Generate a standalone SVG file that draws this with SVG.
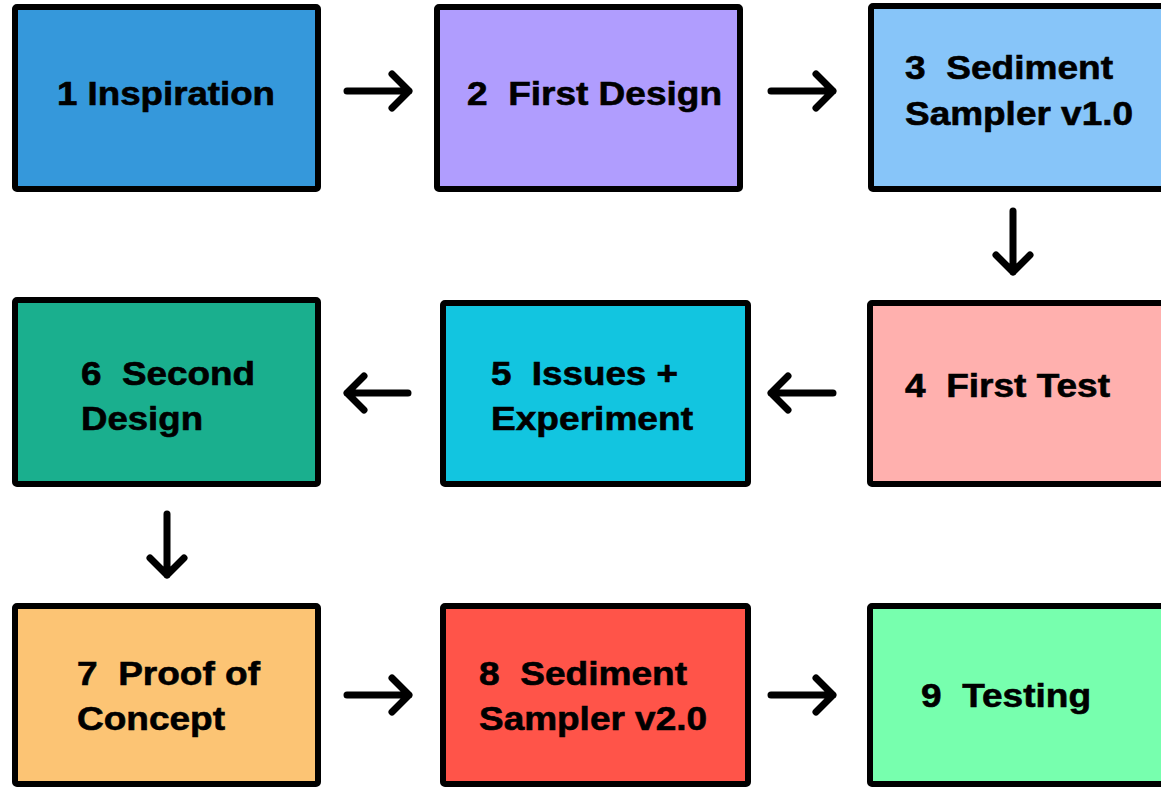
<svg xmlns="http://www.w3.org/2000/svg" width="1161" height="787" viewBox="0 0 1161 787">
  <style>
    .box { stroke: #000; stroke-width: 6; stroke-linejoin: round; }
    .lbl { font-family: "Liberation Sans", Arial, sans-serif; font-weight: bold; font-size: 33px; fill: #000; stroke: #000; stroke-width: 0.6; }
    .arr { fill: none; stroke: #000; stroke-width: 7; stroke-linecap: round; stroke-linejoin: round; }
  </style>
  <rect width="1161" height="787" fill="#fff"/>

  <g id="node1">
    <rect class="box" x="15" y="7" width="303" height="182" rx="2" fill="#3598DB"/>
    <text class="lbl" x="57" y="105" textLength="218" lengthAdjust="spacingAndGlyphs">1 Inspiration</text>
  </g>
  <g id="node2">
    <rect class="box" x="437" y="7" width="303" height="182" rx="2" fill="#B09DFE"/>
    <text class="lbl" x="467" y="105" textLength="255" lengthAdjust="spacingAndGlyphs" xml:space="preserve">2  First Design</text>
  </g>
  <g id="node3">
    <rect class="box" x="871" y="6" width="320" height="183" rx="2" fill="#87C5F9"/>
    <text class="lbl" x="905" y="79" textLength="208" lengthAdjust="spacingAndGlyphs" xml:space="preserve">3  Sediment</text>
    <text class="lbl" x="905" y="125" textLength="228" lengthAdjust="spacingAndGlyphs">Sampler v1.0</text>
  </g>
  <g id="node4">
    <rect class="box" x="870" y="303" width="320" height="181" rx="2" fill="#FFB0AE"/>
    <text class="lbl" x="905" y="397" textLength="205" lengthAdjust="spacingAndGlyphs" xml:space="preserve">4  First Test</text>
  </g>
  <g id="node5">
    <rect class="box" x="443" y="303" width="305" height="181" rx="2" fill="#12C5E0"/>
    <text class="lbl" x="491" y="385" textLength="187" lengthAdjust="spacingAndGlyphs" xml:space="preserve">5  Issues +</text>
    <text class="lbl" x="491" y="430" textLength="202" lengthAdjust="spacingAndGlyphs">Experiment</text>
  </g>
  <g id="node6">
    <rect class="box" x="15" y="300" width="303" height="184" rx="2" fill="#1AAF8E"/>
    <text class="lbl" x="81" y="385" textLength="174" lengthAdjust="spacingAndGlyphs" xml:space="preserve">6  Second</text>
    <text class="lbl" x="81" y="430" textLength="122" lengthAdjust="spacingAndGlyphs">Design</text>
  </g>
  <g id="node7">
    <rect class="box" x="15" y="606" width="303" height="178" rx="2" fill="#FCC474"/>
    <text class="lbl" x="77" y="685" textLength="183" lengthAdjust="spacingAndGlyphs" xml:space="preserve">7  Proof of</text>
    <text class="lbl" x="77" y="730" textLength="148" lengthAdjust="spacingAndGlyphs">Concept</text>
  </g>
  <g id="node8">
    <rect class="box" x="443" y="606" width="305" height="178" rx="2" fill="#FF5449"/>
    <text class="lbl" x="479" y="685" textLength="208" lengthAdjust="spacingAndGlyphs" xml:space="preserve">8  Sediment</text>
    <text class="lbl" x="479" y="730" textLength="228" lengthAdjust="spacingAndGlyphs">Sampler v2.0</text>
  </g>
  <g id="node9">
    <rect class="box" x="870" y="606" width="320" height="178" rx="2" fill="#77FFAE"/>
    <text class="lbl" x="921" y="707" textLength="170" lengthAdjust="spacingAndGlyphs" xml:space="preserve">9  Testing</text>
  </g>

  <g id="connectors">
    <!-- row 1: rightward -->
    <path class="arr" d="M347 91 H409 M392 74 L409 91 L392 108"/>
    <path class="arr" d="M771 91 H833 M816 74 L833 91 L816 108"/>
    <!-- node 3 down to node 4 -->
    <path class="arr" d="M1013 211 V272 M996 255 L1013 272 L1030 255"/>
    <!-- row 2: leftward -->
    <path class="arr" d="M833 393 H771 M788 376 L771 393 L788 410"/>
    <path class="arr" d="M408 393 H347 M364 376 L347 393 L364 410"/>
    <!-- node 6 down to node 7 -->
    <path class="arr" d="M167 514 V575 M150 558 L167 575 L184 558"/>
    <!-- row 3: rightward -->
    <path class="arr" d="M347 695 H409 M392 678 L409 695 L392 712"/>
    <path class="arr" d="M771 695 H833 M816 678 L833 695 L816 712"/>
  </g>
</svg>
